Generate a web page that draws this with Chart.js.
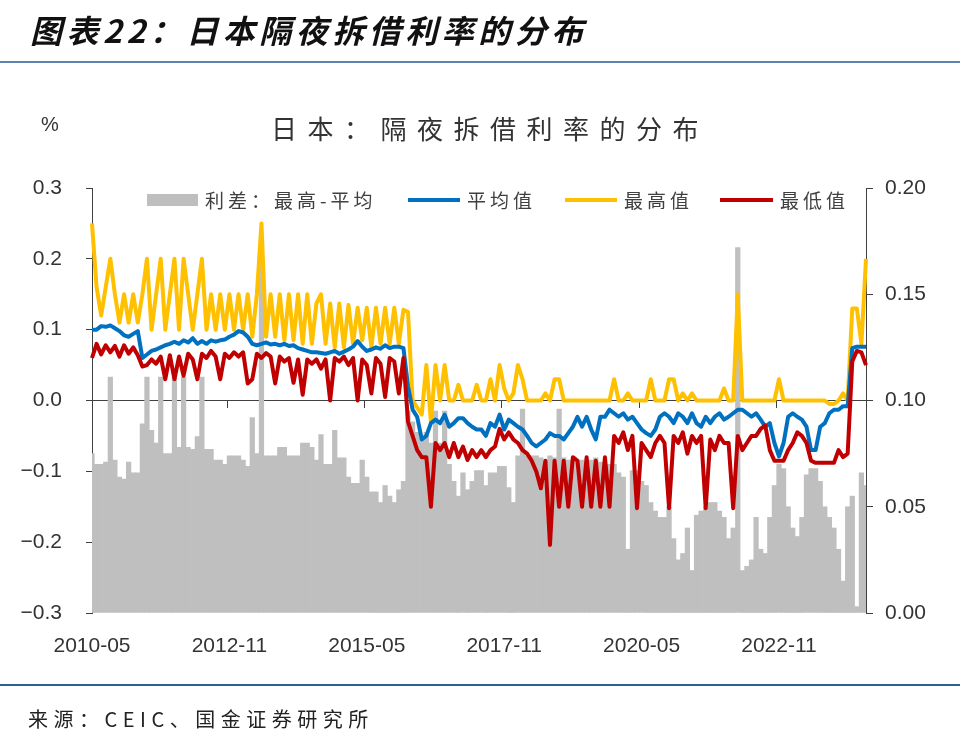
<!DOCTYPE html>
<html lang="zh-CN">
<head>
<meta charset="utf-8">
<title>日本隔夜拆借利率的分布</title>
<script src="https://cdn.jsdelivr.net/npm/chart.js@4.4.1/dist/chart.umd.min.js"></script>
<style>
  html, body { margin: 0; padding: 0; background: #fff; }
  #page { position: relative; width: 960px; height: 743px; overflow: hidden; font-family: "Noto Sans CJK SC", sans-serif; }
  #chartBox { position: absolute; left: 0; top: 0; width: 960px; height: 743px; }
  .heading { position: absolute; left: 30px; top: 13px; font-size: 32px; line-height: 32px; font-weight: 700; font-style: italic; letter-spacing: 4.5px; color: #111; white-space: nowrap; }
  .rule { position: absolute; left: 0; width: 960px; height: 2px; }
  .unit { position: absolute; left: 41px; top: 114px; font-family: "Liberation Sans", Arial, sans-serif; font-size: 20px; line-height: 20px; color: #333; }
  .ctitle { position: absolute; left: 271px; top: 115px; font-size: 26px; line-height: 26px; letter-spacing: 10.5px; color: #333; white-space: nowrap; }
  .item { position: absolute; top: 188px; height: 24px; line-height: 24px; font-size: 19px; letter-spacing: 4px; color: #404040; white-space: nowrap; display: flex; align-items: center; }
  .item i { display: inline-block; margin-right: 7px; }
  .source { position: absolute; left: 28px; top: 709px; font-size: 20px; line-height: 20px; letter-spacing: 5.5px; color: #222; white-space: nowrap; }
</style>
</head>
<body>
<div id="page">
  <div id="chartBox"><canvas id="rateChart"></canvas></div>
  <div class="heading">图表22：日本隔夜拆借利率的分布</div>
  <div class="rule" style="top:61px;background:#5a84ad"></div>
  <div class="unit">%</div>
  <div class="ctitle">日本：隔夜拆借利率的分布</div>
  <div class="item" style="left:147px"><i id="swSpread" style="width:51px;height:12px"></i>利差：最高-平均</div>
  <div class="item" style="left:408px"><i id="swAvg" style="width:52px;height:4px"></i>平均值</div>
  <div class="item" style="left:565px"><i id="swMax" style="width:52px;height:4px"></i>最高值</div>
  <div class="item" style="left:720px"><i id="swMin" style="width:53px;height:4px"></i>最低值</div>
  <div class="rule" style="top:684px;background:#2f6090"></div>
  <div class="source">来源：CEIC、国金证券研究所</div>
</div>

<script>
// monthly readings, 2010-05 .. 2024-06
const tickLabels = ['2010-05', '2012-11', '2015-05', '2017-11', '2020-05', '2022-11'];

// 最高值 (%)
const maxRate = [
  0.25, 0.16, 0.12, 0.16, 0.20, 0.15, 0.11, 0.15, 0.11, 0.15,
  0.11, 0.15, 0.20, 0.10, 0.15, 0.20, 0.10, 0.15, 0.20, 0.10,
  0.20, 0.15, 0.10, 0.15, 0.20, 0.10, 0.15, 0.10, 0.15, 0.10,
  0.15, 0.10, 0.15, 0.10, 0.15, 0.09, 0.15, 0.25, 0.09, 0.15,
  0.09, 0.15, 0.085, 0.15, 0.085, 0.15, 0.08, 0.15, 0.08, 0.137,
  0.15, 0.08, 0.137, 0.075, 0.137, 0.075, 0.135, 0.08, 0.131, 0.085,
  0.131, 0.075, 0.131, 0.08, 0.131, 0.08, 0.131, 0.08, 0.128, 0.125,
  0.0, -0.01, -0.02, 0.05, -0.03, 0.05, 0.0, 0.05, 0.0, 0.0,
  0.022, 0.0, 0.0, 0.0, 0.022, 0.0, 0.0, 0.03, 0.0, 0.05,
  0.017, 0.0, 0.01, 0.05, 0.03, 0.0, 0.0, 0.0, 0.0, 0.01,
  0.0, 0.03, 0.03, 0.0, 0.0, 0.0, 0.0, 0.0, 0.0, 0.0,
  0.0, 0.0, 0.0, 0.0, 0.03, 0.0, 0.0, 0.01, 0.0, 0.0,
  0.0, 0.0, 0.03, 0.0, 0.0, 0.0, 0.03, 0.03, 0.0, 0.01,
  0.0, 0.01, 0.0, 0.0, 0.0, 0.0, 0.0, 0.0, 0.017, 0.0,
  0.0, 0.15, 0.0, 0.0, 0.0, 0.0, 0.0, 0.0, 0.0, 0.0,
  0.03, 0.0, 0.0, 0.0, 0.0, 0.0, 0.0, 0.0, 0.0, 0.0,
  0.0, -0.005, -0.005, 0.0, 0.01, 0.0, 0.13, 0.13, 0.08, 0.20
];

// 平均值 (%)
const avgRate = [
  0.100, 0.100, 0.105, 0.104, 0.106, 0.102, 0.098, 0.092, 0.090, 0.094,
  0.098, 0.060, 0.065, 0.070, 0.072, 0.075, 0.078, 0.080, 0.083, 0.080,
  0.085, 0.082, 0.088, 0.080, 0.084, 0.080, 0.085, 0.083, 0.085, 0.086,
  0.090, 0.093, 0.098, 0.096, 0.090, 0.080, 0.078, 0.080, 0.082, 0.079,
  0.080, 0.078, 0.080, 0.077, 0.078, 0.074, 0.072, 0.070, 0.068, 0.068,
  0.067, 0.066, 0.068, 0.070, 0.066, 0.069, 0.072, 0.076, 0.084, 0.076,
  0.070, 0.072, 0.075, 0.073, 0.078, 0.074, 0.076, 0.076, 0.074, 0.020,
  -0.013, -0.023, -0.055, -0.050, -0.032, -0.027, -0.032, -0.020, -0.037, -0.032,
  -0.025, -0.025, -0.032, -0.037, -0.041, -0.041, -0.050, -0.032, -0.037, -0.020,
  -0.041, -0.027, -0.032, -0.037, -0.041, -0.050, -0.060, -0.065, -0.060, -0.055,
  -0.046, -0.050, -0.050, -0.055, -0.046, -0.037, -0.023, -0.037, -0.023, -0.041,
  -0.055, -0.023, -0.023, -0.013, -0.018, -0.023, -0.018, -0.027, -0.023, -0.032,
  -0.041, -0.046, -0.050, -0.041, -0.023, -0.018, -0.023, -0.032, -0.018, -0.023,
  -0.032, -0.018, -0.032, -0.037, -0.023, -0.032, -0.023, -0.018, -0.027, -0.023,
  -0.018, -0.013, -0.013, -0.018, -0.023, -0.018, -0.027, -0.037, -0.032, -0.060,
  -0.079, -0.060, -0.023, -0.018, -0.023, -0.027, -0.037, -0.070, -0.070, -0.037,
  -0.032, -0.018, -0.013, -0.013, -0.008, -0.008, 0.074, 0.076, 0.076, 0.076
];

// 最低值 (%)
const minRate = [
  0.060, 0.080, 0.065, 0.078, 0.068, 0.077, 0.062, 0.078, 0.066, 0.075,
  0.064, 0.048, 0.050, 0.058, 0.052, 0.062, 0.030, 0.064, 0.030, 0.062,
  0.035, 0.066, 0.058, 0.030, 0.066, 0.060, 0.070, 0.062, 0.030, 0.066,
  0.060, 0.068, 0.062, 0.068, 0.024, 0.030, 0.066, 0.060, 0.067, 0.062,
  0.024, 0.062, 0.055, 0.060, 0.025, 0.058, 0.008, 0.058, 0.052, 0.058,
  0.045, 0.058, 0.000, 0.060, 0.055, 0.062, 0.050, 0.060, 0.000, 0.058,
  0.050, 0.010, 0.060, 0.052, 0.005, 0.060, 0.055, 0.010, 0.060, -0.030,
  -0.050, -0.070, -0.080, -0.080, -0.150, -0.060, -0.070, -0.060, -0.080, -0.060,
  -0.080, -0.065, -0.084, -0.070, -0.080, -0.070, -0.080, -0.070, -0.065, -0.040,
  -0.055, -0.045, -0.055, -0.060, -0.070, -0.075, -0.085, -0.100, -0.124, -0.085,
  -0.204, -0.085, -0.150, -0.085, -0.150, -0.080, -0.085, -0.150, -0.080, -0.150,
  -0.085, -0.150, -0.080, -0.150, -0.050, -0.060, -0.045, -0.070, -0.050, -0.152,
  -0.060, -0.070, -0.080, -0.060, -0.050, -0.060, -0.152, -0.050, -0.060, -0.045,
  -0.075, -0.050, -0.060, -0.050, -0.152, -0.055, -0.070, -0.050, -0.060, -0.060,
  -0.152, -0.050, -0.070, -0.060, -0.050, -0.050, -0.040, -0.035, -0.070, -0.085,
  -0.085, -0.085, -0.070, -0.060, -0.045, -0.050, -0.060, -0.085, -0.088, -0.088,
  -0.088, -0.088, -0.088, -0.070, -0.080, -0.075, 0.055, 0.070, 0.068, 0.050
];

// 利差：最高-平均 (right axis)
const spreadVals = [
  0.075, 0.070, 0.070, 0.071, 0.111, 0.072, 0.064, 0.063, 0.071, 0.066,
  0.066, 0.089, 0.111, 0.086, 0.080, 0.111, 0.075, 0.075, 0.111, 0.078,
  0.111, 0.078, 0.077, 0.083, 0.111, 0.077, 0.077, 0.072, 0.072, 0.070,
  0.074, 0.074, 0.074, 0.072, 0.069, 0.092, 0.075, 0.165, 0.074, 0.074,
  0.074, 0.078, 0.078, 0.074, 0.074, 0.074, 0.080, 0.080, 0.078, 0.072,
  0.084, 0.070, 0.070, 0.086, 0.073, 0.073, 0.064, 0.061, 0.061, 0.072,
  0.064, 0.057, 0.057, 0.052, 0.060, 0.055, 0.052, 0.058, 0.062, 0.095,
  0.090, 0.085, 0.082, 0.085, 0.080, 0.095, 0.080, 0.095, 0.070, 0.062,
  0.055, 0.066, 0.058, 0.062, 0.067, 0.067, 0.060, 0.066, 0.066, 0.069,
  0.069, 0.059, 0.052, 0.074, 0.096, 0.074, 0.074, 0.074, 0.073, 0.072,
  0.074, 0.073, 0.096, 0.073, 0.072, 0.072, 0.071, 0.072, 0.071, 0.072,
  0.073, 0.071, 0.070, 0.070, 0.070, 0.066, 0.064, 0.030, 0.067, 0.067,
  0.062, 0.060, 0.052, 0.048, 0.045, 0.045, 0.050, 0.035, 0.025, 0.028,
  0.040, 0.020, 0.046, 0.048, 0.050, 0.052, 0.052, 0.048, 0.045, 0.035,
  0.040, 0.172, 0.020, 0.022, 0.025, 0.045, 0.030, 0.028, 0.045, 0.060,
  0.070, 0.068, 0.050, 0.040, 0.036, 0.045, 0.065, 0.068, 0.068, 0.062,
  0.050, 0.045, 0.040, 0.030, 0.015, 0.050, 0.055, 0.003, 0.066, 0.060
];

const colors = { spread: '#bfbfbf', avg: '#0070c0', max: '#ffc000', min: '#c00000' };
document.getElementById('swSpread').style.background = colors.spread;
document.getElementById('swAvg').style.background = colors.avg;
document.getElementById('swMax').style.background = colors.max;
document.getElementById('swMin').style.background = colors.min;

const monthLabels = [];
let yr = 2010, mo = 5;
while (monthLabels.length < spreadVals.length) {
    monthLabels.push(yr + '-' + String(mo).padStart(2, '0'));
    mo++;
    if (mo > 12) { mo = 1; yr++; }
}

const tickFont = { family: '"Liberation Sans", Arial, sans-serif', size: 21 };
const axisColor = '#404040';

function lineSet(label, data, color, order) {
    return {
        type: 'line', label: label, data: data,
        xAxisID: 'x', yAxisID: 'y',
        borderColor: color, backgroundColor: color,
        borderWidth: 4, borderJoinStyle: 'round',
        pointRadius: 0, tension: 0, order: order
    };
}

new Chart(document.getElementById('rateChart'), {
    type: 'bar',
    data: {
        labels: monthLabels,
        datasets: [
            {
                type: 'bar', label: '利差：最高-平均', data: spreadVals,
                xAxisID: 'x', yAxisID: 'y1',
                backgroundColor: colors.spread,
                barPercentage: 1, categoryPercentage: 1, borderWidth: 0,
                order: 4
            },
            lineSet('最高值', maxRate, colors.max, 3),
            lineSet('平均值', avgRate, colors.avg, 2),
            lineSet('最低值', minRate, colors.min, 1)
        ]
    },
    options: {
        responsive: true,
        maintainAspectRatio: false,
        animation: false,
        layout: { padding: { top: 188, bottom: 90, left: 0, right: 0 } },
        plugins: { legend: { display: false }, tooltip: { enabled: false } },
        scales: {
            x: {
                type: 'category', position: 'bottom', offset: false,
                grid: { display: false }, border: { display: false },
                ticks: {
                    autoSkip: false, maxRotation: 0, minRotation: 0, padding: 13,
                    color: '#333', font: tickFont,
                    callback: (v, i) => tickLabels.includes(monthLabels[i]) ? monthLabels[i] : ''
                },
                afterFit: s => { s.height = 40; }
            },
            xZero: {
                type: 'category', position: { y: 0 }, offset: false,
                grid: {
                    drawOnChartArea: false, drawTicks: true, tickLength: 7,
                    color: c => tickLabels.includes(monthLabels[c.index]) ? axisColor : 'rgba(0,0,0,0)'
                },
                border: { display: true, color: axisColor, width: 1 },
                ticks: { display: false, autoSkip: false }
            },
            y: {
                position: 'left', min: -0.3, max: 0.3,
                grid: { drawOnChartArea: false, tickLength: 6, color: axisColor },
                border: { color: axisColor, width: 1 },
                ticks: {
                    stepSize: 0.1, padding: 24, color: '#333', font: tickFont,
                    callback: v => v.toFixed(1).replace('-', '−')
                },
                afterFit: s => { s.width = 92; }
            },
            y1: {
                position: 'right', min: 0, max: 0.2,
                grid: { drawOnChartArea: false, tickLength: 7, color: axisColor },
                border: { color: axisColor, width: 1 },
                ticks: {
                    stepSize: 0.05, padding: 12, color: '#333', font: tickFont,
                    callback: v => v.toFixed(2)
                },
                afterFit: s => { s.width = 94; }
            }
        }
    }
});
</script>
</body>
</html>
